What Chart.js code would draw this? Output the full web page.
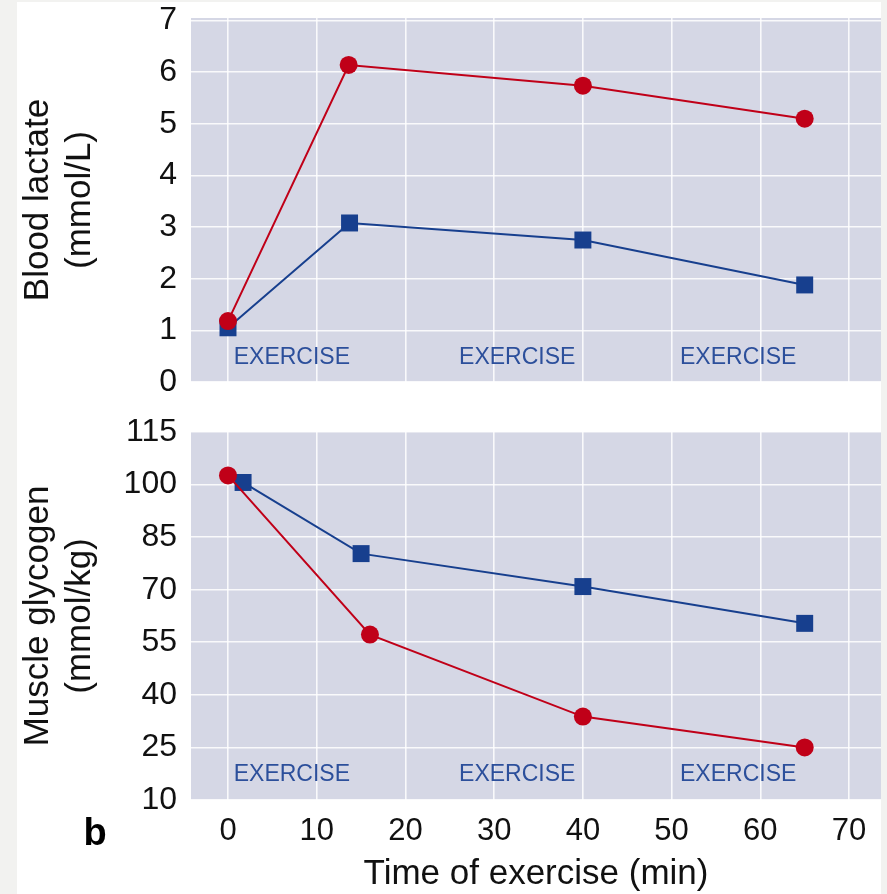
<!DOCTYPE html>
<html>
<head>
<meta charset="utf-8">
<script src="https://cdn.jsdelivr.net/npm/chart.js@4/dist/chart.umd.min.js"></script>
<style>
  body { margin: 0; background: #f2f2f0; width: 887px; height: 894px; overflow: hidden; position: relative; }
  #card { position: absolute; left: 17px; top: 2px; width: 864px; height: 892px; background: #ffffff; }
  #topWrap { position: absolute; left: 17px; top: 0px; width: 864px; height: 400px; }
  #botWrap { position: absolute; left: 17px; top: 400px; width: 864px; height: 494px; }
</style>
</head>
<body>
<div id="card"></div>
<div id="topWrap"><canvas id="chart-top"></canvas></div>
<div id="botWrap"><canvas id="chart-bottom"></canvas></div>
<script>
// blood lactate (top panel)
var lactTimeRed = [0, 13.6, 40, 65];
var lactRed = [1.18, 6.14, 5.74, 5.10];
var lactTimeBlue = [0, 13.7, 40, 65];
var lactBlue = [1.05, 3.08, 2.75, 1.88];

// muscle glycogen (bottom panel)
var glyTimeRed = [0, 16, 40, 65];
var glyRed = [102.6, 57.2, 33.8, 25.0];
var glyTimeBlue = [1.7, 15, 40, 65];
var glyBlue = [100.6, 80.3, 70.9, 60.4];

// "EXERCISE" marks along the time axis
var exerciseAt = [7.2, 32.6, 57.5];
var exerciseText = 'EXERCISE';

var RED = '#c00018';
var BLUE = '#173f8e';
var PANEL = '#d5d7e5';
var FONT = "'Liberation Sans', Arial, Helvetica, sans-serif";

function pts(xs, ys) {
  var out = [];
  for (var i = 0; i < xs.length; i++) out.push({x: xs[i], y: ys[i]});
  return out;
}

var panelBg = {
  id: 'panelBg',
  beforeDraw: function(chart) {
    var a = chart.chartArea, ctx = chart.ctx;
    ctx.save();
    ctx.fillStyle = PANEL;
    ctx.fillRect(a.left, a.top, a.right - a.left, a.bottom - a.top);
    ctx.restore();
  }
};

var exerciseLabels = {
  id: 'exerciseLabels',
  beforeDatasetsDraw: function(chart, args, opts) {
    var ctx = chart.ctx;
    ctx.save();
    ctx.fillStyle = '#2c4f9b';
    ctx.font = '23px ' + FONT;
    ctx.textAlign = 'center';
    ctx.textBaseline = 'middle';
    for (var i = 0; i < exerciseAt.length; i++) {
      ctx.fillText(exerciseText, chart.scales.x.getPixelForValue(exerciseAt[i]), chart.scales.y.getPixelForValue(opts.y));
    }
    ctx.restore();
  }
};

var panelLetter = {
  id: 'panelLetter',
  afterDraw: function(chart, args, opts) {
    if (!opts.text) return;
    var ctx = chart.ctx;
    ctx.save();
    ctx.fillStyle = '#000';
    ctx.font = 'bold 38px ' + FONT;
    ctx.textAlign = 'center';
    ctx.textBaseline = 'middle';
    ctx.fillText(opts.text, 78, 435);
    ctx.restore();
  }
};

function redSet(data) {
  return { data: data, borderColor: RED, backgroundColor: RED, borderWidth: 2,
    pointStyle: 'circle', pointRadius: 9, pointHoverRadius: 9, pointBorderWidth: 0 };
}
function blueSet(data) {
  return { data: data, borderColor: BLUE, backgroundColor: BLUE, borderWidth: 2,
    pointStyle: 'rect', pointRadius: 12, pointHoverRadius: 12, pointBorderWidth: 0 };
}

var gridOpts = { color: 'rgba(255,255,255,0.85)', lineWidth: 1.6, drawTicks: false };

function makeChart(id, cfg) {
  return new Chart(document.getElementById(id), {
    type: 'scatter',
    data: { datasets: [redSet(cfg.red), blueSet(cfg.blue)] },
    plugins: [panelBg, exerciseLabels, panelLetter],
    options: {
      responsive: true,
      maintainAspectRatio: false,
      animation: false,
      showLine: true,
      clip: false,
      layout: { padding: cfg.padding, autoPadding: false },
      plugins: {
        legend: { display: false },
        tooltip: { enabled: false },
        exerciseLabels: { y: cfg.exerciseY },
        panelLetter: { text: cfg.letter }
      },
      scales: {
        x: {
          type: 'linear', min: -4.17, max: 73.6,
          grid: gridOpts, border: { display: false },
          ticks: { display: cfg.showX, stepSize: 10, includeBounds: false, padding: 16,
            color: '#111', font: { family: FONT, size: 31, lineHeight: 1.0 } },
          title: { display: cfg.showX, text: 'Time of exercise (min)', color: '#111',
            padding: { top: 0, bottom: 0 }, font: { family: FONT, size: 35, lineHeight: 1.1 } },
          afterFit: function(s) { s.height = cfg.xHeight; s.paddingLeft = 0; s.paddingRight = 0; }
        },
        y: {
          type: 'linear', min: cfg.yMin, max: cfg.yMax,
          grid: gridOpts, border: { display: false },
          ticks: { stepSize: cfg.yStep, includeBounds: false, padding: 14,
            color: '#111', font: { family: FONT, size: 32, lineHeight: 1.0 } },
          title: { display: true, text: cfg.yTitle, color: '#111',
            padding: { top: 0, bottom: 0 }, font: { family: FONT, size: 35, lineHeight: 1.2 } },
          afterFit: function(s) { s.width = 174; s.paddingTop = 0; s.paddingBottom = 0; }
        }
      }
    }
  });
}

window.topChart = makeChart('chart-top', {
  red: pts(lactTimeRed, lactRed), blue: pts(lactTimeBlue, lactBlue),
  yMin: 0, yMax: 7.05, yStep: 1, yTitle: ['Blood lactate', '(mmol/L)'],
  showX: false, xHeight: 0, padding: { top: 18, bottom: 18, left: 0, right: 0 },
  exerciseY: 0.48, letter: ''
});

window.bottomChart = makeChart('chart-bottom', {
  red: pts(glyTimeRed, glyRed), blue: pts(glyTimeBlue, glyBlue),
  yMin: 10, yMax: 115, yStep: 15, yTitle: ['Muscle glycogen', '(mmol/kg)'],
  showX: true, xHeight: 94, padding: { top: 32, bottom: 0, left: 0, right: 0 },
  exerciseY: 17.3, letter: 'b'
});
</script>
</body>
</html>
